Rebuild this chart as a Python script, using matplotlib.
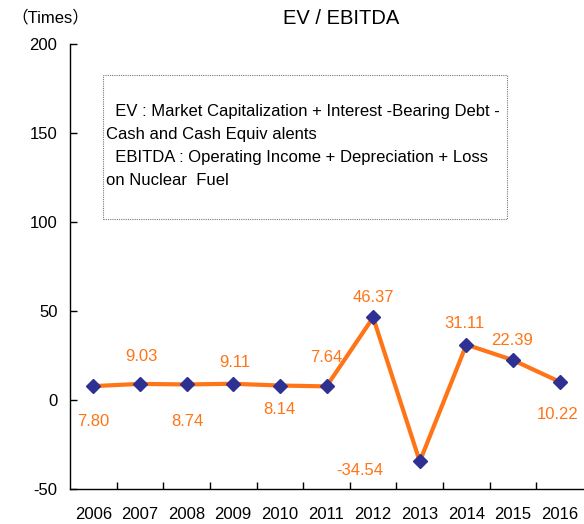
import matplotlib
matplotlib.use("Agg")
import matplotlib.pyplot as plt
from matplotlib.patches import Rectangle

plt.rcParams['font.family'] = ['Liberation Sans', 'Noto Sans CJK JP', 'DejaVu Sans']

years = ["2006", "2007", "2008", "2009", "2010", "2011", "2012", "2013", "2014", "2015", "2016"]
values = [7.80, 9.03, 8.74, 9.11, 8.14, 7.64, 46.37, -34.54, 31.11, 22.39, 10.22]
labels = ["7.80", "9.03", "8.74", "9.11", "8.14", "7.64", "46.37", "-34.54", "31.11", "22.39", "10.22"]
yticks = [-50, 0, 50, 100, 150, 200]

# label offsets in pixels (dx, dy)
offsets = [(0, -35), (1, 27), (1, -37), (2, 21), (0, -24), (0, 29),
           (0, 20), (-60, -9), (-2, 21), (-1, 20), (-2, -33)]

ORANGE = "#FF7417"
NAVY = "#2E3192"
FS = 12

fig = plt.figure(figsize=(5.84, 5.24), dpi=100)
ax = fig.add_axes([70/584, 35/524, 513/584, 445/524])

x = list(range(len(years)))
ax.plot(x, values, color=ORANGE, lw=3, zorder=2)
ax.plot(x, values, ls="none", marker="D", ms=7, color=NAVY, zorder=3)

for xi, v, lab, (dx, dy) in zip(x, values, labels, offsets):
    ax.annotate(lab, (xi, v), xytext=(dx, dy), textcoords="offset pixels",
                ha="center", va="center", color=ORANGE, fontsize=FS)

ax.set_xlim(-0.5, len(years) - 0.5)
ax.set_ylim(-50, 200)
ax.set_yticks(yticks)
ax.set_yticklabels([str(t) for t in yticks], fontsize=FS)
ax.set_xticks([i + 0.5 for i in range(len(years) - 1)])
ax.set_xticklabels([])
ax.set_xticks(x, minor=True)
ax.set_xticklabels(years, minor=True, fontsize=FS)
ax.tick_params(axis="x", which="minor", length=0, pad=13)
ax.tick_params(axis="x", which="major", direction="in", length=5, width=1)
ax.tick_params(axis="y", direction="in", length=5, width=1, pad=9)

for s in ["top", "right"]:
    ax.spines[s].set_visible(False)
for s in ["left", "bottom"]:
    ax.spines[s].set_linewidth(1)

# dotted note box
box = Rectangle((103/584, 1 - 219/524), (507-103)/584, (219-75)/524,
                transform=fig.transFigure, fill=False, ls=(0, (1, 1)),
                lw=0.8, edgecolor="#777777")
fig.patches.append(box)
note = ("  EV : Market Capitalization + Interest -Bearing Debt -\n"
        "Cash and Cash Equiv alents\n"
        "  EBITDA : Operating Income + Depreciation + Loss\n"
        "on Nuclear  Fuel")
fig.text(106/584, 1 - 146/524, note, ha="left", va="center", fontsize=FS,
         linespacing=1.65)

fig.text(341/584, 1 - 19/524, "EV / EBITDA", ha="center", va="center", fontsize=14.5)
fig.text(50/584, 1 - 17/524, "（Times）", ha="center", va="center", fontsize=FS)

fig.savefig("out.png", dpi=100)
